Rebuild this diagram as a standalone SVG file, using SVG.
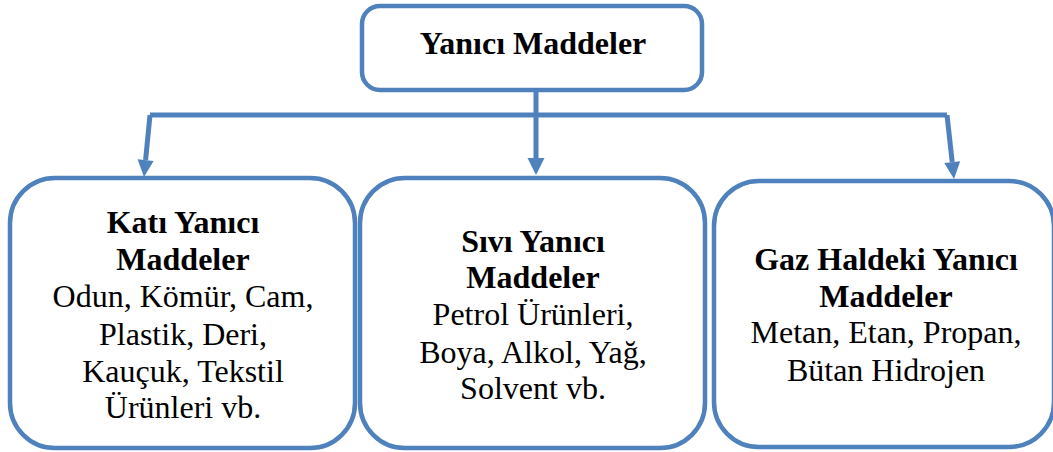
<svg xmlns="http://www.w3.org/2000/svg" width="1053" height="452" viewBox="0 0 1053 452">
<defs>
<style>
.box{fill:#fff;stroke:#4F81BD;stroke-width:4.5}
.line{fill:none;stroke:#4F81BD;stroke-width:5}
.head{fill:#4F81BD}
.t{font-family:'Liberation Serif',serif;font-size:32px;fill:#000;text-anchor:middle}
.b{font-weight:bold}
</style>
</defs>
<rect width="1053" height="452" fill="#fff"/>
<g id="connectors">
<path class="line" d="M536,90 V115"/>
<path class="line" d="M150,115 H947"/>
<path class="line" d="M150,115 L145.6,160"/>
<polygon class="head" points="144,177 153.6,160.9 137.6,159.3"/>
<path class="line" d="M536,115 V159"/>
<polygon class="head" points="536,175 527.5,158 544.5,158"/>
<path class="line" d="M947,115 L952.2,162"/>
<polygon class="head" points="954,179 960.2,161.2 944.3,163"/>
</g>
<g id="root" font-family="Liberation Serif, serif">
<rect class="box" x="362" y="6" width="340" height="84" rx="18"/>
<text class="t b" x="533" y="54">Yanıcı Maddeler</text>
</g>
<g id="kati" font-family="Liberation Serif, serif">
<rect class="box" x="10" y="178" width="345" height="270" rx="45"/>
<text class="t b" x="183" y="233">Katı Yanıcı</text>
<text class="t b" x="183" y="270">Maddeler</text>
<text class="t" x="183" y="307">Odun, Kömür, Cam,</text>
<text class="t" x="183" y="345">Plastik, Deri,</text>
<text class="t" x="183" y="382">Kauçuk, Tekstil</text>
<text class="t" x="183" y="418">Ürünleri vb.</text>
</g>
<g id="sivi" font-family="Liberation Serif, serif">
<rect class="box" x="360" y="178" width="345" height="270" rx="45"/>
<text class="t b" x="533" y="252">Sıvı Yanıcı</text>
<text class="t b" x="533" y="288">Maddeler</text>
<text class="t" x="533" y="325">Petrol Ürünleri,</text>
<text class="t" x="533" y="363">Boya, Alkol, Yağ,</text>
<text class="t" x="533" y="399">Solvent vb.</text>
</g>
<g id="gaz" font-family="Liberation Serif, serif">
<rect class="box" x="714" y="181" width="340" height="266" rx="45"/>
<text class="t b" x="886" y="270">Gaz Haldeki Yanıcı</text>
<text class="t b" x="886" y="307">Maddeler</text>
<text class="t" x="886" y="343">Metan, Etan, Propan,</text>
<text class="t" x="886" y="381">Bütan Hidrojen</text>
</g>
</svg>
